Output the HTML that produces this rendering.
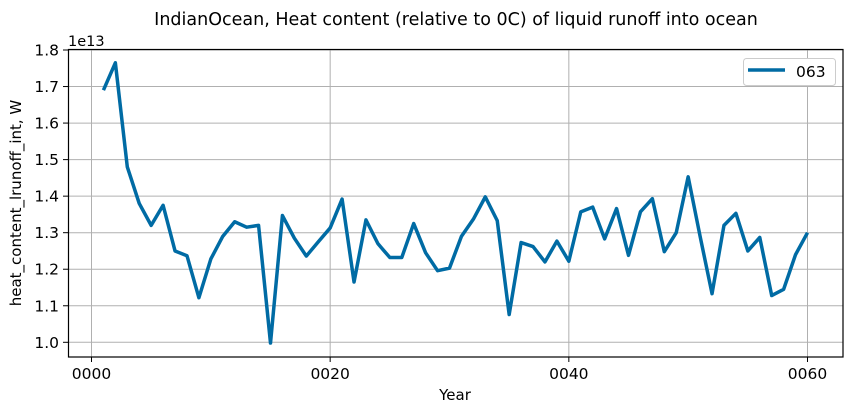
<!DOCTYPE html>
<html><head><meta charset="utf-8"><style>
body{margin:0;background:#fff}
svg{display:block;font-family:"DejaVu Sans","Liberation Sans",sans-serif}
</style></head><body>
<svg id="chart" width="852" height="412" viewBox="0 0 852 412">
<rect width="852" height="412" fill="#fff"/>
<text x="456" y="25" font-size="17.5" text-anchor="middle">IndianOcean, Heat content (relative to 0C) of liquid runoff into ocean</text>
<g id="grid"></g>
<g id="ticks"></g>
<polyline id="series" fill="none" stroke="#006ba4" stroke-width="3.5" stroke-linejoin="round"/>
<rect x="68.5" y="49.5" width="774.5" height="307.5" fill="none" stroke="#000" stroke-width="1.2"/>
<text x="68" y="46" font-size="14.5">1e13</text>
<text x="455" y="400" font-size="15" text-anchor="middle">Year</text>
<text transform="translate(21,203) rotate(-90)" font-size="15" text-anchor="middle">heat_content_lrunoff_int, W</text>
<g>
<rect x="743.5" y="58.5" width="92" height="27" rx="3" fill="#fff" stroke="#ccc"/>
<line x1="748" y1="70" x2="785" y2="70" stroke="#006ba4" stroke-width="3.5"/>
<text x="796" y="77" font-size="15.5">063</text>
</g>
</svg>
<script>
const years=[1,2,3,4,5,6,7,8,9,10,11,12,13,14,15,16,17,18,19,20,21,22,23,24,25,26,27,28,29,30,31,32,33,34,35,36,37,38,39,40,41,42,43,44,45,46,47,48,49,50,51,52,53,54,55,56,57,58,59,60];
const values=[1.69,1.765,1.48,1.38,1.32,1.375,1.25,1.237,1.122,1.228,1.29,1.33,1.315,1.32,0.998,1.347,1.285,1.236,1.275,1.313,1.392,1.165,1.335,1.27,1.232,1.232,1.325,1.245,1.196,1.203,1.29,1.337,1.398,1.333,1.076,1.273,1.262,1.22,1.277,1.222,1.357,1.37,1.283,1.366,1.238,1.357,1.393,1.248,1.3,1.453,1.29,1.133,1.32,1.353,1.25,1.287,1.128,1.145,1.24,1.3];
const yTicks=[1.0,1.1,1.2,1.3,1.4,1.5,1.6,1.7,1.8];
const yTickLabels=["1.0","1.1","1.2","1.3","1.4","1.5","1.6","1.7","1.8"];
const xTicks=[0,20,40,60];
const xTickLabels=["0000","0020","0040","0060"];
const NS="http://www.w3.org/2000/svg";
function xS(v){return 91.5+v*(807.5-91.5)/60;}
function yS(v){return 342.3-(v-1.0)*(342.3-50)/0.8;}
const grid=document.getElementById('grid'),ticks=document.getElementById('ticks');
function mk(tag,attrs,parent){const e=document.createElementNS(NS,tag);for(const k in attrs)e.setAttribute(k,attrs[k]);parent.appendChild(e);return e;}
yTicks.forEach((t,i)=>{const y=yS(t);
const g=mk('line',{x1:68.5,x2:843,y1:y,y2:y,stroke:'#b0b0b0','stroke-width':1},grid);


const tk=mk('line',{x1:63,x2:68.5,y1:y,y2:y,stroke:'#000'},ticks);


const tx=mk('text',{x:59,y:y+5.5,'font-size':15.5,'text-anchor':'end'},ticks);tx.textContent=yTickLabels[i];


});
xTicks.forEach((t,i)=>{const x=xS(t);
const g=mk('line',{x1:x,x2:x,y1:49.5,y2:357,stroke:'#b0b0b0','stroke-width':1},grid);


const tk=mk('line',{x1:x,x2:x,y1:357,y2:362,stroke:'#000'},ticks);


const tx=mk('text',{x:x,y:379,'font-size':15.5,'text-anchor':'middle'},ticks);tx.textContent=xTickLabels[i];


});
document.getElementById('series').setAttribute('points',years.map((yr,i)=>xS(yr)+','+yS(values[i])).join(' '));
</script>
</body></html>
